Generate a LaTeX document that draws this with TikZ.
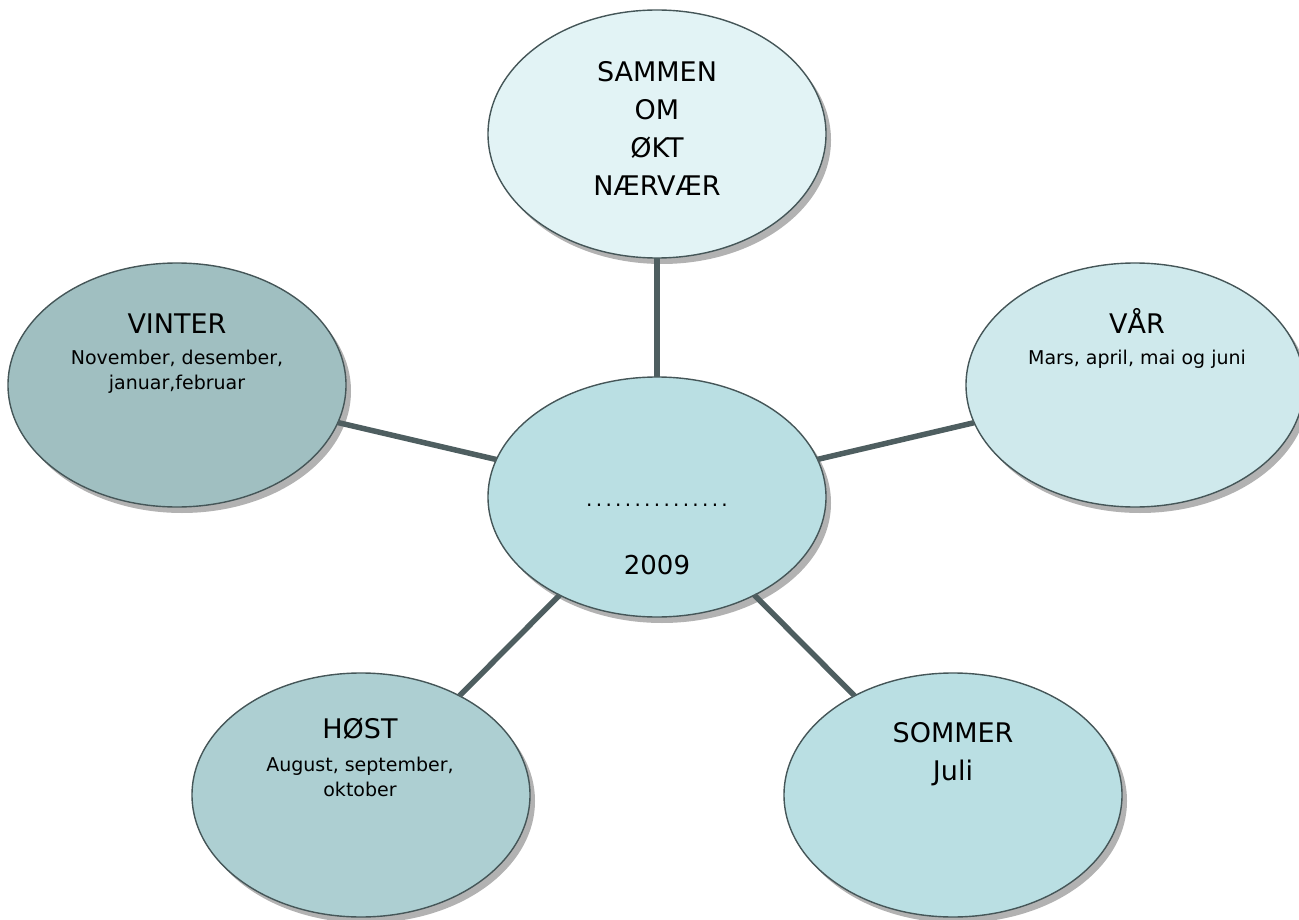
\documentclass[tikz,border=0pt]{standalone}
\usepackage{fontspec}
\setmainfont{DejaVu Sans}
\usetikzlibrary{shapes.geometric,shadows}
\definecolor{cTop}{HTML}{E2F3F5}
\definecolor{cMid}{HTML}{BADFE3}
\definecolor{cWin}{HTML}{A0BFC1}
\definecolor{cSpr}{HTML}{CFE9EC}
\definecolor{cAut}{HTML}{ADCFD2}
\definecolor{cSum}{HTML}{BADFE3}
\definecolor{cLine}{HTML}{455658}
\definecolor{cEdge}{HTML}{4E5E60}
\tikzset{
  blob/.style={ellipse, draw=cLine, line width=1.4pt, inner sep=0pt, outer sep=0pt,
    minimum width=338pt, minimum height=244pt,
    drop shadow={shadow xshift=5pt, shadow yshift=-6pt, fill=black!30, opacity=1}},
  link/.style={draw=cEdge, line width=5.5pt},
  title/.style={anchor=base, inner sep=0pt, font=\fontsize{27}{32}\selectfont},
  small/.style={anchor=base, inner sep=0pt, font=\fontsize{19}{23}\selectfont},
}
\newcommand{\dotrow}{.\kern3.3pt.\kern3.3pt.\kern3.3pt.\kern3.3pt.\kern3.3pt.\kern3.3pt.\kern3.3pt.\kern3.3pt.\kern3.3pt.\kern3.3pt.\kern3.3pt.\kern3.3pt.\kern3.3pt.\kern3.3pt.}
\begin{document}
\begin{tikzpicture}[x=1pt,y=-1pt]
\useasboundingbox (0,0) rectangle (1299,920);
\node[blob, fill=cTop, minimum height=248pt] (top) at (657,134) {};
\node[blob, fill=cWin] (win) at (177,385) {};
\node[blob, fill=cSpr] (spr) at (1135,385) {};
\node[blob, fill=cAut] (aut) at (361,795) {};
\node[blob, fill=cSum] (sum) at (953,795) {};
\node[blob, fill=cMid, minimum height=240pt] (mid) at (657,497) {};
\draw[link] (mid) -- (top);
\draw[link] (mid) -- (win);
\draw[link] (mid) -- (spr);
\draw[link] (mid) -- (aut);
\draw[link] (mid) -- (sum);
% texts
\node[title] (t1) at (657,82) {SAMMEN};
\node[title] (t2) at (657,120) {OM};
\node[title] (t3) at (657,158) {ØKT};
\node[title] (t4) at (657,196) {NÆRVÆR};
\node[title] (w1) at (177,333) {VINTER};
\node[small] (w2) at (177,364) {November, desember,};
\node[small] (w3) at (177,389) {januar,februar};
\node[title] (s1) at (1137,333) {VÅR};
\node[small] (s2) at (1137,364) {Mars, april, mai og juni};
\node[anchor=base, inner sep=0pt, font=\fontsize{20}{24}\selectfont] (m1) at (657,506) {\dotrow};
\node[anchor=base, inner sep=0pt, font=\fontsize{26}{30}\selectfont] (m2) at (657,574) {2009};
\node[title] (a1) at (360,738) {HØST};
\node[small] (a2) at (360,771) {August, september,};
\node[small] (a3) at (360,796) {oktober};
\node[title] (u1) at (953,742) {SOMMER};
\node[title] (u2) at (953,780) {Juli};
\end{tikzpicture}
\end{document}
